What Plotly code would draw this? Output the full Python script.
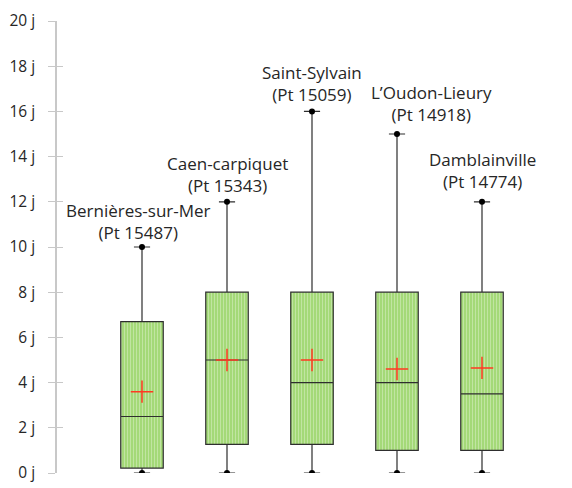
import plotly.graph_objects as go

stations = ["Bernières-sur-Mer", "Caen-carpiquet", "Saint-Sylvain", "L’Oudon-Lieury", "Damblainville"]
codes = ["Pt 15487", "Pt 15343", "Pt 15059", "Pt 14918", "Pt 14774"]
mins = [0, 0, 0, 0, 0]
q1 = [0.22, 1.27, 1.27, 1.0, 1.0]
medians = [2.5, 5.0, 4.0, 4.0, 3.5]
q3 = [6.7, 8.0, 8.0, 8.0, 8.0]
maxs = [10, 12, 16, 15, 12]
means = [3.6, 5.0, 5.0, 4.6, 4.65]
tick_vals = [0, 2, 4, 6, 8, 10, 12, 14, 16, 18, 20]
tick_text = [f"{v} j" for v in tick_vals]

pos = list(range(len(stations)))
FONT = "Open Sans"
TXT = "#262626"
label_xshift = [-4, 0, 0, 34, 0]   # label placement tweaks (pixels)
label_yshift = [1, 3, 3, 6, 7]

fig = go.Figure()

# textured box fill
fig.add_trace(go.Bar(
    x=pos, base=q1, y=[b - a for a, b in zip(q1, q3)], width=0.5,
    marker=dict(color="#a4d978", line=dict(width=0),
                pattern=dict(shape="|", bgcolor="#a4d978", fgcolor="#ffffff",
                             fgopacity=0.35, size=3, solidity=0.3)),
    hoverinfo="skip", showlegend=False))

fig.add_trace(go.Box(
    x=pos, q1=q1, median=medians, q3=q3, lowerfence=mins, upperfence=maxs,
    width=0.5, whiskerwidth=0.38, fillcolor="rgba(0,0,0,0)",
    line=dict(color="#2e2e2e", width=1.2), boxpoints=False, showlegend=False))

fig.add_trace(go.Scatter(
    x=pos + pos, y=mins + maxs, mode="markers",
    marker=dict(symbol="circle", size=6, color="black"),
    hoverinfo="skip", showlegend=False))

fig.add_trace(go.Scatter(
    x=pos, y=means, mode="markers",
    marker=dict(symbol="cross-thin", size=16, line=dict(color="#ff3a22", width=1.5)),
    showlegend=False))

# dummy trace for overlaid axis (inner tick halves)
fig.add_trace(go.Scatter(x=[], y=[], yaxis="y2", showlegend=False))

for p, s, c, m, dx, dy in zip(pos, stations, codes, maxs, label_xshift, label_yshift):
    fig.add_annotation(x=p, y=m, text=f"{s}<br>({c})", showarrow=False,
                       yanchor="bottom", yshift=dy, xshift=dx,
                       font=dict(family=FONT, size=17, color=TXT))

fig.update_layout(
    width=572, height=488,
    margin=dict(l=49, r=13, t=13, b=23),
    paper_bgcolor="white", plot_bgcolor="white",
    barmode="overlay",
    font=dict(family=FONT, size=15.5, color=TXT),
    xaxis=dict(range=[-1, 5], showgrid=False, zeroline=False, showline=False,
               showticklabels=False, ticks="", automargin=False),
    yaxis=dict(range=[0, 20], tickvals=tick_vals, ticktext=tick_text,
               showgrid=False, zeroline=False, showline=True, linecolor="#c8c8c8",
               linewidth=1.5, ticks="outside", ticklen=7, tickcolor="#c8c8c8",
               tickwidth=1, ticklabelstandoff=10, automargin=False,
               tickfont=dict(family=FONT, size=15.5, color=TXT)),
    yaxis2=dict(range=[0, 20], overlaying="y", side="left", tickvals=tick_vals,
                showticklabels=False, showgrid=False, zeroline=False, showline=False,
                ticks="inside", ticklen=6, tickcolor="#c8c8c8", tickwidth=1,
                automargin=False),
)

fig.write_html("out.html")
